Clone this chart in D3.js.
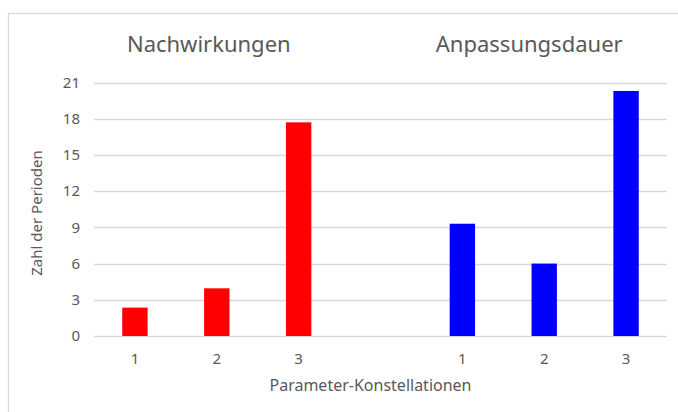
<!DOCTYPE html>
<html lang="de">
<head>
<meta charset="UTF-8">
<title>Nachwirkungen und Anpassungsdauer</title>
<script src="https://d3js.org/d3.v7.min.js"></script>
<style>
    body { margin: 0; background: #fff; }
    text { font-family: "Noto Sans", "Open Sans", sans-serif; fill: #595959; }
    .grid line { stroke: #d9d9d9; stroke-width: 1.3px; }
    .axis path, .axis line { display: none; }
</style>
</head>
<body>
<svg width="678" height="412"></svg>
<script>
    // categories: 3 Konstellationen per Gruppe, leerer Platz dazwischen
    const categories = ["a1", "a2", "a3", "gap", "b1", "b2", "b3"];
    const tickLabels = ["1", "2", "3", "", "1", "2", "3"];
    const nachwirkungen = [2.35, 3.95, 17.7];
    const anpassungsdauer = [9.3, 6.0, 20.3];
    const groupTitles = ["Nachwirkungen", "Anpassungsdauer"];
    const yTicks = [0, 3, 6, 9, 12, 15, 18, 21];

    const bars = [
        ...nachwirkungen.map((v, i) => ({ cat: categories[i], value: v, color: "#ff0000" })),
        ...anpassungsdauer.map((v, i) => ({ cat: categories[i + 4], value: v, color: "#0000ff" }))
    ];

    const svg = d3.select("svg");
    const margin = { left: 94, right: 11, top: 82.5, bottom: 76 };
    const width = 678, height = 412;

    // chart frame
    svg.append("rect")
        .attr("x", 8.5).attr("y", 13.5)
        .attr("width", 690).attr("height", 420)
        .attr("fill", "none")
        .attr("stroke", "#d9d9d9")
        .attr("stroke-width", 1.3);

    const x = d3.scaleBand()
        .domain(categories)
        .range([margin.left, width - margin.right])
        .paddingInner(0.69)
        .paddingOuter(0.345);

    const y = d3.scaleLinear()
        .domain([0, 21])
        .range([height - margin.bottom, margin.top]);

    // gridlines
    svg.append("g")
        .attr("class", "grid")
        .selectAll("line")
        .data(yTicks)
        .enter().append("line")
        .attr("x1", margin.left)
        .attr("x2", width - margin.right)
        .attr("y1", d => Math.round(y(d)) + 0.5)
        .attr("y2", d => Math.round(y(d)) + 0.5);

    // y axis labels
    svg.append("g")
        .attr("class", "axis")
        .attr("transform", `translate(${margin.left - 14},0)`)
        .call(d3.axisLeft(y).tickValues(yTicks).tickSize(0).tickPadding(0))
        .call(g => g.selectAll("text").attr("font-size", 15).style("font-family", null));

    // bars
    svg.append("g")
        .selectAll("rect")
        .data(bars)
        .enter().append("rect")
        .attr("x", d => x(d.cat))
        .attr("width", x.bandwidth())
        .attr("y", d => y(d.value))
        .attr("height", d => y(0) - y(d.value))
        .attr("fill", d => d.color);

    // x axis labels
    svg.append("g")
        .attr("class", "axis")
        .attr("transform", `translate(0,${height - margin.bottom})`)
        .call(d3.axisBottom(x).tickSize(0).tickPadding(17)
            .tickFormat((d, i) => tickLabels[i]))
        .call(g => g.selectAll("text").attr("font-size", 15).style("font-family", null));

    // group titles above each group of bars
    const groupCenters = [
        (x(categories[0]) + x(categories[2]) + x.bandwidth()) / 2 - 8,
        (x(categories[4]) + x(categories[6]) + x.bandwidth()) / 2 - 15
    ];
    svg.append("g")
        .selectAll("text")
        .data(groupTitles)
        .enter().append("text")
        .attr("x", (d, i) => groupCenters[i])
        .attr("y", 52)
        .attr("text-anchor", "middle")
        .attr("font-size", 22)
        .text(d => d);

    // axis titles
    svg.append("text")
        .attr("x", 370.5)
        .attr("y", 391)
        .attr("text-anchor", "middle")
        .attr("font-size", 16)
        .text("Parameter-Konstellationen");

    svg.append("text")
        .attr("transform", "translate(42,213) rotate(-90)")
        .attr("text-anchor", "middle")
        .attr("font-size", 15)
        .text("Zahl der Perioden");
</script>
</body>
</html>
